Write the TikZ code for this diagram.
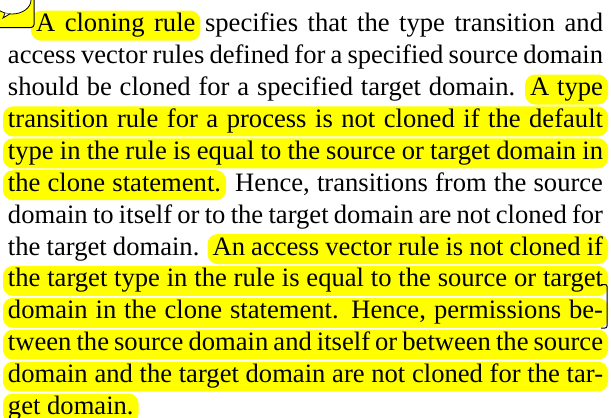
\documentclass[tikz,border=0pt]{standalone}
\usepackage{fontspec}
\setmainfont{Liberation Serif}
\usepackage{xcolor}
\usepackage{tikz}
\usetikzlibrary{backgrounds}
\definecolor{marker}{HTML}{FFFF00}
\newcommand{\linefont}{\fontsize{26.6}{31.9}\selectfont}
\newdimen\segA \newdimen\segB \newdimen\gapsp \newdimen\tmpw
% widths of the two parts of a justified line: left, right, part 1, its spaces, part 2, its spaces, extra gap
\newcommand{\splitsegs}[7]{%
  \setbox0\hbox{#3}\global\segA=\wd0\relax%
  \setbox0\hbox{#5}\global\segB=\wd0\relax%
  \setbox0\hbox{a b}\gapsp=\wd0\relax%
  \setbox0\hbox{ab}\advance\gapsp by -\wd0\relax%
  \global\tmpw=\dimexpr(#2pt-#1pt-\segA-\segB-\gapsp-#7pt)/\numexpr#4+#6+1\relax\relax%
  \global\advance\segA by #4\tmpw\relax%
  \global\advance\segB by #6\tmpw\relax%
}
\newcommand{\fullline}[1]{\makebox[595pt][s]{#1}}
\newcommand{\hlband}[1]{\fill[hlfill] ([shift={(-5pt,-9pt)}]#1.base west) rectangle ([shift={(5pt,21pt)}]#1.base east);}
\tikzset{
  txt/.style={inner sep=0pt, outer sep=0pt, font=\linefont, text=black},
  hlfill/.style={fill=marker, rounded corners=10pt},
  notebox/.style={draw=black, fill=marker, line width=1pt, rounded corners=3pt},
  notemark/.style={draw=black, line width=1pt, rounded corners=2pt}
}

\begin{document}
\begin{tikzpicture}[x=1pt,y=1pt]
\useasboundingbox (0,0) rectangle (611,-418);

% line 1
\node[txt, anchor=base west] (l1a) at (36,-31.7) {\splitsegs{36}{603}{A cloning rule}{2}{specifies that the type transition and}{5}{0}\makebox[\segA][s]{A cloning rule}};
\node[txt, anchor=base east] (l1b) at (603,-31.7) {\makebox[\segB][s]{specifies that the type transition and}};
% line 2
\node[txt, anchor=base west] (l2) at (8,-63.6) {\fullline{access vector rules defined for a specified source domain}};
% line 3
\node[txt, anchor=base west] (l3a) at (8,-95.5) {\splitsegs{8}{603}{should be cloned for a specified target domain.}{7}{A type}{1}{7}\makebox[\segA][s]{should be cloned for a specified target domain.}};
\node[txt, anchor=base east] (l3b) at (603,-95.5) {\makebox[\segB][s]{A type}};
% lines 4-5
\node[txt, anchor=base west] (l4) at (8,-127.4) {\fullline{transition rule for a process is not cloned if the default}};
\node[txt, anchor=base west] (l5) at (8,-159.3) {\fullline{type in the rule is equal to the source or target domain in}};
% line 6
\node[txt, anchor=base west] (l6a) at (8,-191.2) {\splitsegs{8}{603}{the clone statement.}{2}{Hence, transitions from the source}{4}{7}\makebox[\segA][s]{the clone statement.}};
\node[txt, anchor=base east] (l6b) at (603,-191.2) {\makebox[\segB][s]{Hence, transitions from the source}};
% line 7
\node[txt, anchor=base west] (l7) at (8,-223.1) {\fullline{domain to itself or to the target domain are not cloned for}};
% line 8
\node[txt, anchor=base west] (l8a) at (8,-255.0) {\splitsegs{8}{603}{the target domain.}{2}{An access vector rule is not cloned if}{7}{7}\makebox[\segA][s]{the target domain.}};
\node[txt, anchor=base east] (l8b) at (603,-255.0) {\makebox[\segB][s]{An access vector rule is not cloned if}};
% lines 9-12
\node[txt, anchor=base west] (l9) at (8,-286.9) {\fullline{the target type in the rule is equal to the source or target}};
\node[txt, anchor=base west] (l10) at (8,-318.8) {\fullline{domain in the clone statement. Hence, permissions be-}};
\node[txt, anchor=base west] (l11) at (8,-350.7) {\fullline{tween the source domain and itself or between the source}};
\node[txt, anchor=base west] (l12) at (8,-382.6) {\fullline{domain and the target domain are not cloned for the tar-}};
% line 13
\node[txt, anchor=base west] (l13) at (8,-414.5) {get domain.};

% highlights
\begin{scope}[on background layer]
\hlband{l1a}
\hlband{l3b}
\hlband{l4}
\hlband{l5}
\hlband{l6a}
\hlband{l8b}
\hlband{l9}
\hlband{l10}
\hlband{l11}
\hlband{l12}
\hlband{l13}
\end{scope}

% note icon
\draw[notebox] (-8,8) rectangle (34,-27.5);
\begin{scope}
\clip (-8,8) rectangle (34,-27.5);
\draw[fill=white, line width=0.8pt] (12,0) ellipse (19 and 14);
\draw[fill=white, line width=0.8pt] (5,-13.2) -- (3,-18) -- (10,-13.8);
\end{scope}

% mark at the right edge
\draw[notemark] (601,-284.5) -- (607,-284.5) -- (607,-328) -- (601,-328);
\end{tikzpicture}
\end{document}
